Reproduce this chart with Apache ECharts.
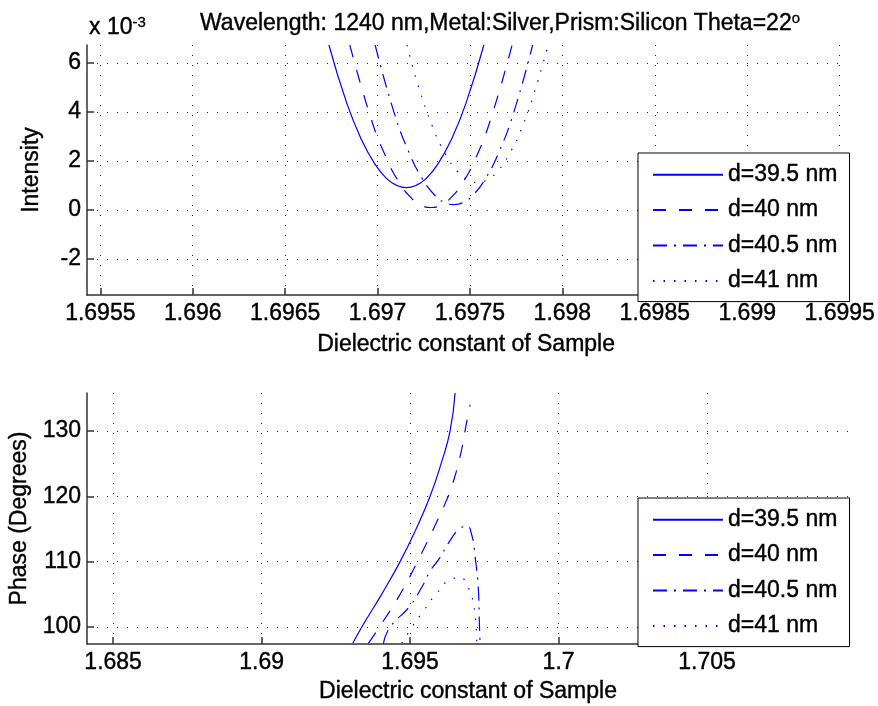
<!DOCTYPE html>
<html>
<head>
<meta charset="utf-8">
<script src="https://cdn.jsdelivr.net/npm/echarts@6/dist/echarts.min.js"></script>
<style>
  html, body { margin: 0; padding: 0; background: #ffffff; }
  #chart { width: 878px; height: 706px; }
</style>
</head>
<body>
<div id="chart"></div>
<script>
// ---- Intensity (x 1e-3) vs dielectric constant, one array pair per film thickness ----
const epsI395 = [1.696737, 1.696833, 1.696914, 1.696984, 1.697048, 1.697102, 1.697156, 1.697210, 1.697264, 1.697328, 1.697398, 1.697479, 1.697575];
const intI395 = [6.73, 4.37, 2.85, 1.89, 1.29, 1.01, 0.91, 1.01, 1.29, 1.89, 2.85, 4.37, 6.73];

const epsI40 = [1.696850, 1.696966, 1.697047, 1.697117, 1.697181, 1.697235, 1.697289, 1.697343, 1.697397, 1.697461, 1.697532, 1.697612, 1.697728];
const intI40 = [6.73, 3.70, 2.13, 1.12, 0.50, 0.20, 0.10, 0.20, 0.50, 1.12, 2.13, 3.70, 6.73];

const epsI405 = [1.696987, 1.697090, 1.697171, 1.697241, 1.697305, 1.697359, 1.697413, 1.697467, 1.697521, 1.697585, 1.697655, 1.697736, 1.697839];
const intI405 = [6.73, 3.96, 2.33, 1.29, 0.64, 0.32, 0.22, 0.32, 0.64, 1.29, 2.33, 3.96, 6.73];

const epsI41 = [1.697159, 1.697217, 1.697298, 1.697368, 1.697432, 1.697486, 1.697540, 1.697594, 1.697648, 1.697712, 1.697783, 1.697863, 1.697922];
const intI41 = [6.73, 5.15, 3.39, 2.27, 1.57, 1.23, 1.12, 1.23, 1.57, 2.27, 3.39, 5.15, 6.73];

// ---- Phase (degrees) vs dielectric constant ----
const epsP395 = [1.693071, 1.693374, 1.694040, 1.694663, 1.695202, 1.695673, 1.696044, 1.696347, 1.696515];
const phP395 = [97.5, 100, 105, 110, 115, 120, 125, 130, 135.8];

const epsP40 = [1.693596, 1.693966, 1.694663, 1.695246, 1.695875, 1.696256, 1.696404, 1.696683, 1.696929, 1.697020];
const phP40 = [97.5, 100, 105, 110, 115.87, 119.7, 121.48, 126.07, 131.95, 133.98];

const epsP405 = [1.694101, 1.694327, 1.694976, 1.695394, 1.695697, 1.695953, 1.696323, 1.696626, 1.696909, 1.697077, 1.697189, 1.697300, 1.697333, 1.697357];
const phP405 = [97.5, 100, 103.1, 106.08, 108.72, 110.26, 113.06, 114.85, 115.46, 114.08, 110.76, 105.66, 100.57, 97.5];

const epsP41 = [1.694720, 1.695057, 1.695471, 1.695899, 1.696404, 1.696707, 1.696909, 1.697077, 1.697155, 1.697222, 1.697246];
const phP41 = [97.5, 99.95, 102.6, 105.16, 107.35, 107.55, 106.43, 104.64, 103.1, 100.05, 97.5];

// ---- Legend names and tick values ----
const names = ['d=39.5 nm', 'd=40 nm', 'd=40.5 nm', 'd=41 nm'];
const topXTicks = [1.6955, 1.696, 1.6965, 1.697, 1.6975, 1.698, 1.6985, 1.699, 1.6995];
const topYTicks = [-2, 0, 2, 4, 6];
const botXTicks = [1.685, 1.69, 1.695, 1.7, 1.705];
const botYTicks = [100, 110, 120, 130];

const FONT = 'Arial, "Liberation Sans", Helvetica, sans-serif';
const FS = 23;
const BLUE = '#0000ff';
const AXIS = '#333333';
const dashStyles = ['solid', [13, 13], [14, 7, 2, 7], [1.5, 9]];

// shared text look: slightly heavy strokes
const txt = { fontFamily: FONT, fontSize: FS, color: '#000', textBorderColor: '#000', textBorderWidth: 0.4 };

const zip = (xs, ys) => xs.map((x, i) => [x, ys[i]]);

function xAxisCfg(gridIndex, min, max, ticks, gap) {
  return {
    type: 'value', gridIndex, min, max,
    name: 'Dielectric constant of Sample',
    nameLocation: 'middle', nameGap: gap,
    nameTextStyle: Object.assign({}, txt),
    axisLine: { show: true, onZero: false, lineStyle: { color: AXIS, width: 1.5 } },
    axisTick: { show: true, inside: true, length: 7, customValues: ticks, lineStyle: { color: AXIS, width: 1.5 } },
    axisLabel: Object.assign({ customValues: ticks, margin: 7 }, txt),
    splitLine: { show: true, lineStyle: { color: '#000', width: 1, type: [1, 9], opacity: 0.85 } }
  };
}

function yAxisCfg(gridIndex, min, max, ticks, name, gap) {
  return {
    type: 'value', gridIndex, min, max,
    name, nameLocation: 'middle', nameGap: gap, nameRotate: 90,
    nameTextStyle: Object.assign({}, txt),
    axisLine: { show: true, onZero: false, lineStyle: { color: AXIS, width: 1.5 } },
    axisTick: { show: true, inside: true, length: 7, customValues: ticks, lineStyle: { color: AXIS, width: 1.5 } },
    axisLabel: Object.assign({ customValues: ticks, margin: 6 }, txt),
    splitLine: { show: true, lineStyle: { color: '#000', width: 1, type: [1, 9], opacity: 0.85 } }
  };
}

function lineSeries(name, idx, data, styleIdx) {
  return {
    name, type: 'line', xAxisIndex: idx, yAxisIndex: idx,
    data, symbol: 'none', smooth: 0.5, clip: true,
    lineStyle: { color: BLUE, width: 1.2, type: dashStyles[styleIdx] },
    itemStyle: { color: BLUE },
    animation: false
  };
}

function legendCfg(top) {
  return {
    data: names, orient: 'vertical', left: 638, top,
    itemWidth: 70, itemHeight: 14, itemGap: 12,
    padding: [10, 12, 9, 14],
    backgroundColor: '#ffffff', borderColor: '#000000', borderWidth: 1,
    itemStyle: { opacity: 0 },
    textStyle: Object.assign({ lineHeight: 21 }, txt),
    selectedMode: false
  };
}

const supStyle = { fontFamily: FONT, fontSize: 15, lineHeight: 14, verticalAlign: 'top', color: '#000', textBorderColor: '#000', textBorderWidth: 0.3 };

const chart = echarts.init(document.getElementById('chart'), null, { renderer: 'canvas' });
chart.setOption({
  animation: false,
  backgroundColor: '#ffffff',
  title: [
    {
      left: 195, top: 6,
      text: 'Wavelength: 1240 nm,Metal:Silver,Prism:Silicon Theta=22{sup|o}',
      textStyle: Object.assign({ fontWeight: 'normal', lineHeight: 26, rich: { sup: supStyle } }, txt)
    },
    {
      left: 84, top: 10,
      text: 'x 10{sup|-3}',
      textStyle: Object.assign({ fontWeight: 'normal', lineHeight: 26, rich: { sup: supStyle } }, txt)
    }
  ],
  grid: [
    { left: 87, top: 45, width: 762, height: 250 },
    { left: 87, top: 393, width: 762, height: 251 }
  ],
  xAxis: [
    xAxisCfg(0, 1.695428, 1.69953, topXTicks, 38),
    xAxisCfg(1, 1.68412, 1.70978, botXTicks, 36)
  ],
  yAxis: [
    yAxisCfg(0, -3.47, 6.73, topYTicks, 'Intensity', 44),
    yAxisCfg(1, 97.4, 135.8, botYTicks, 'Phase (Degrees)', 55)
  ],
  legend: [legendCfg(153), legendCfg(498)],
  series: [
    lineSeries(names[0], 0, zip(epsI395, intI395), 0),
    lineSeries(names[1], 0, zip(epsI40, intI40), 1),
    lineSeries(names[2], 0, zip(epsI405, intI405), 2),
    lineSeries(names[3], 0, zip(epsI41, intI41), 3),
    lineSeries(names[0], 1, zip(epsP395, phP395), 0),
    lineSeries(names[1], 1, zip(epsP40, phP40), 1),
    lineSeries(names[2], 1, zip(epsP405, phP405), 2),
    lineSeries(names[3], 1, zip(epsP41, phP41), 3)
  ]
});
</script>
</body>
</html>
